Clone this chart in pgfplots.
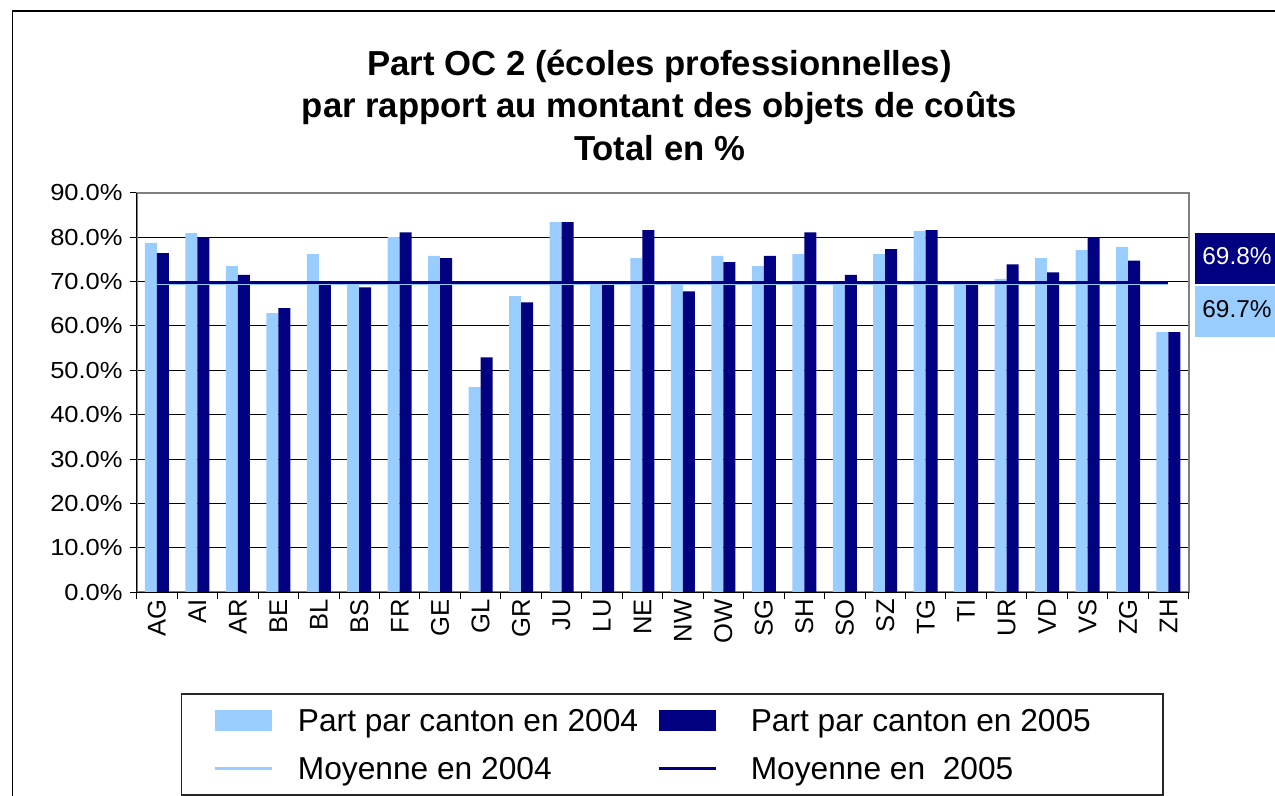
\documentclass[border=0pt]{standalone}
\usepackage{fontspec}
\setmainfont{Liberation Sans}
\newfontfamily\wfont{Liberation Sans}[FakeStretch=1.1]
\usepackage{pgfplots}
\usepackage{pgfplotstable}
\pgfplotsset{compat=1.18}
\definecolor{cA}{HTML}{99CCFF}
\definecolor{cB}{HTML}{000080}

\pgfplotstableread{
x  a    b
0  78.7 76.4
1  80.9 80.0
2  73.5 71.5
3  62.9 64.0
4  76.2 69.4
5  69.6 68.7
6  80.0 81.1
7  75.8 75.3
8  46.2 52.9
9  66.7 65.3
10 83.4 83.4
11 69.6 69.4
12 75.3 81.6
13 69.7 67.8
14 75.8 74.4
15 73.5 75.8
16 76.2 81.1
17 69.5 71.5
18 76.2 77.3
19 81.4 81.6
20 69.4 69.4
21 70.6 73.9
22 75.3 72.1
23 77.1 80.0
24 77.8 74.7
25 58.6 58.6
}\data

\begin{document}
\begin{tikzpicture}
\useasboundingbox (-68.35pt,-101.85pt) rectangle (569.15pt,296.15pt);
\clip (-68.35pt,-101.85pt) rectangle (569.15pt,296.15pt);
\begin{axis}[
  at={(0pt,0pt)}, anchor=south west,
  scale only axis, width=526pt, height=199.75pt,
  xmin=-0.5, xmax=25.5, ymin=0, ymax=90,
  axis line style={draw=black!50, line width=1pt},
  ytick={0,10,...,90},
  yticklabel={\pgfmathprintnumber[fixed,fixed zerofill,precision=1]{\tick}\%},
  /pgf/number format/assume math mode=true,
  yticklabel style={font=\wfont\fontsize{11.6}{13}\selectfont},
  xtick={-0.5,0.5,...,25.5},
  xticklabels={},
  extra x ticks={0,1,...,25},
  extra x tick labels={AG,AI,AR,BE,BL,BS,FR,GE,GL,GR,JU,LU,NE,NW,OW,SG,SH,SO,SZ,TG,TI,UR,VD,VS,ZG,ZH},
  extra x tick style={major tick length=0pt, tick style={draw=none}},
  xticklabel style={rotate=90, anchor=east, font=\fontsize{12.8}{14}\selectfont},
  tick align=outside, tick pos=left,
  major tick length=3.5pt,
  tick style={black, line width=0.5pt},
  ymajorgrids, grid style={black, line width=0.5pt},
  title={Part OC 2 (écoles professionnelles)\\par rapport au montant des objets de coûts\\Total en \%},
  title style={font=\bfseries\fontsize{17.35}{21.25}\selectfont, align=center, at={(0.497,1.1897)}, anchor=center},
  legend columns=2,
  legend cell align=left,
  legend style={at={(0.0421,-0.2528)}, anchor=north west, draw=black!85, line width=0.75pt,
    font=\fontsize{15.85}{18}\selectfont, inner xsep=15.85pt, inner ysep=5.6pt, row sep=8.6pt,
    nodes={inner sep=0pt, text height=13.35pt, text depth=2pt},
    /tikz/every odd column/.append style={column sep=12.5pt},
    /tikz/every even column/.append style={column sep=9.7pt}},
]
\addplot[ybar, bar width=6pt, bar shift=-3pt, fill=cA, draw=none,
  legend image code/.code={\fill[cA] (0pt,-5.175pt) rectangle (28.65pt,5.175pt);}]
  table[x=x,y=a]{\data};
\addplot[ybar, bar width=6pt, bar shift=3pt, fill=cB, draw=none,
  legend image code/.code={\fill[cB] (0pt,-5.175pt) rectangle (28.65pt,5.175pt);}]
  table[x=x,y=b]{\data};
\addplot[cA, line width=1.6pt, mark=none,
  legend image code/.code={\draw[cA, line width=1.1pt] (0pt,0pt) -- (28.65pt,0pt);}]
  coordinates {(0,69.7) (25,69.7)};
\addplot[cB, line width=1.2pt, mark=none,
  legend image code/.code={\draw[cB, line width=1.1pt] (0pt,0pt) -- (28.65pt,0pt);}]
  coordinates {(0,69.8) (25,69.8)};
\addlegendentry{Part par canton en 2004}
\addlegendentry{\hspace*{4.4pt}Part par canton en 2005\hspace*{20.15pt}}
\addlegendentry{Moyenne en 2004}
\addlegendentry{\hspace*{4.4pt}Moyenne en \ 2005}
\end{axis}
\begin{scope}[shift={(-68.35pt,296.15pt)}, x=0.5pt, y=-0.5pt]
  \draw[black, line width=0.75pt] (136.7,192.8) -- (136.7,592.3) -- (1188.7,592.3);
  \draw[black, line width=0.75pt] (12.3,1000) -- (12.3,11) -- (1400,11);
  \fill[cB] (1195,233.3) rectangle (1400,284);
  \node[anchor=west, inner sep=0pt, text=white, font=\fontsize{12.2}{14}\selectfont] at (1202,256) {69.8\%};
  \fill[cA] (1195,286) rectangle (1400,336.7);
  \node[anchor=west, inner sep=0pt, text=black, font=\fontsize{12.2}{14}\selectfont] at (1202,309.2) {69.7\%};
\end{scope}
\end{tikzpicture}
\end{document}
